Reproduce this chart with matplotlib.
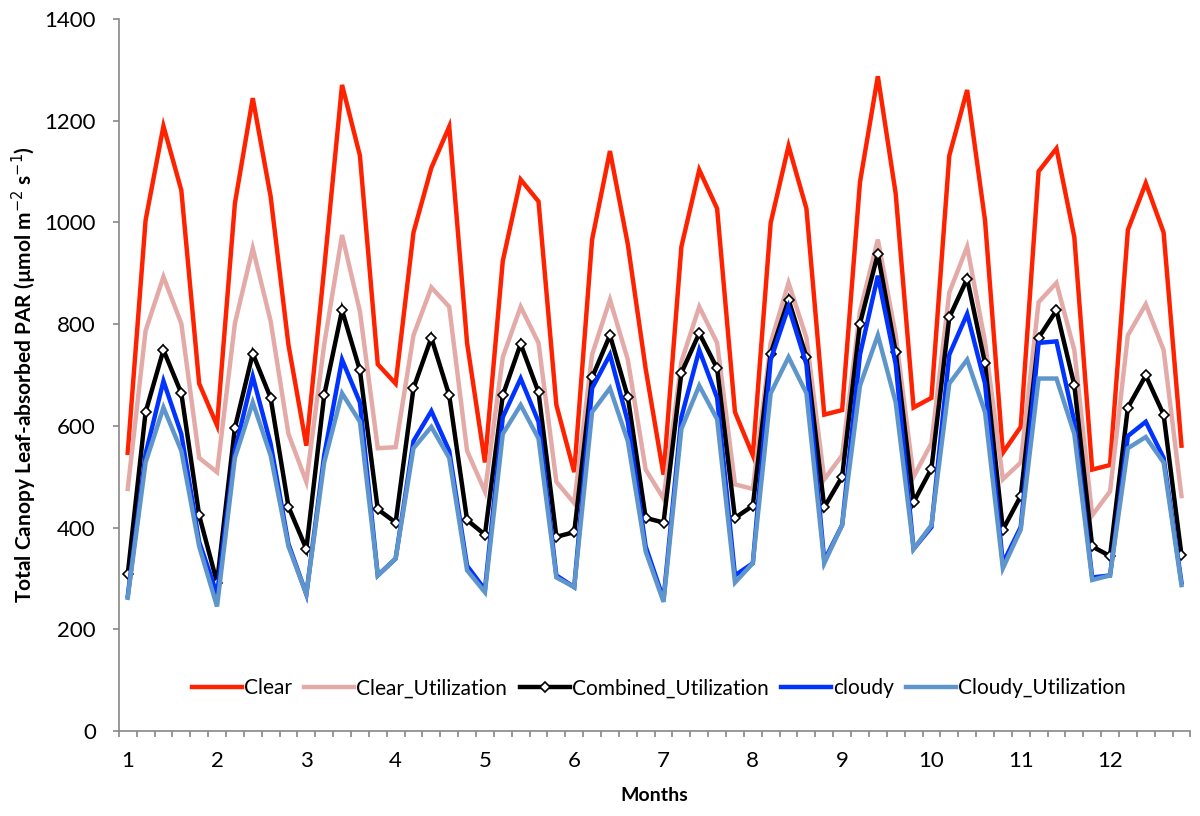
"""Canopy leaf-absorbed PAR by month: clear, cloudy and utilization series"""

import matplotlib
matplotlib.use('Agg')
import matplotlib.pyplot as plt
from matplotlib.ticker import FixedLocator, NullFormatter

plt.rcParams['font.family'] = ['Lato', 'DejaVu Sans']

# Five samples per month, 12 months
months = [str(m) for m in range(1, 13)]
samples_per_month = 5

clear = [547, 1004, 1189, 1063, 683, 601, 1037, 1244, 1051, 759,
         561, 909, 1270, 1131, 721, 683, 980, 1107, 1188, 763,
         528, 924, 1084, 1041, 641, 509, 966, 1140, 957, 712,
         504, 952, 1103, 1027, 627, 542, 999, 1150, 1027, 622,
         631, 1079, 1287, 1056, 636, 655, 1131, 1260, 1004, 547,
         598, 1100, 1145, 971, 514, 523, 985, 1077, 980, 561]
clear_util = [476, 787, 893, 801, 537, 509, 801, 949, 806, 584,
              490, 760, 975, 825, 556, 558, 778, 872, 834, 551,
              471, 735, 834, 763, 490, 448, 740, 848, 730, 514,
              457, 726, 834, 763, 485, 476, 763, 881, 773, 495,
              542, 825, 966, 778, 500, 566, 862, 952, 765, 495,
              528, 843, 881, 749, 424, 471, 778, 839, 749, 462]
combined_util = [308, 627, 749, 664, 424, 292, 596, 742, 655, 441,
                 358, 660, 827, 709, 436, 410, 674, 773, 660, 415,
                 386, 660, 761, 666, 382, 391, 695, 778, 657, 419,
                 410, 704, 782, 713, 419, 443, 742, 848, 735, 440,
                 500, 801, 938, 745, 450, 516, 813, 889, 723, 396,
                 462, 773, 827, 680, 363, 344, 636, 699, 622, 346]
cloudy = [265, 545, 688, 584, 372, 269, 551, 697, 565, 368,
          269, 542, 730, 646, 306, 339, 570, 629, 551, 325,
          278, 617, 693, 608, 306, 283, 674, 740, 608, 363,
          259, 617, 749, 655, 306, 330, 730, 834, 721, 335,
          405, 740, 895, 721, 358, 401, 740, 820, 683, 330,
          401, 763, 766, 608, 302, 306, 580, 608, 537, 292]
cloudy_util = [262, 528, 636, 551, 363, 245, 537, 646, 542, 363,
               269, 528, 664, 608, 306, 339, 556, 598, 537, 316,
               273, 584, 641, 575, 302, 283, 627, 674, 570, 353,
               254, 594, 679, 613, 292, 330, 664, 735, 664, 330,
               405, 679, 778, 646, 358, 405, 683, 730, 627, 320,
               396, 693, 693, 584, 297, 306, 556, 578, 528, 287]

series = [
    ('Clear', clear, dict(color='#ff2200')),
    ('Clear_Utilization', clear_util, dict(color='#e3aaa8')),
    ('Combined_Utilization', combined_util,
     dict(color='black', marker='D', markersize=5, markerfacecolor='white',
          markeredgecolor='black', markeredgewidth=1.2)),
    ('cloudy', cloudy, dict(color='#0033ff')),
    ('Cloudy_Utilization', cloudy_util, dict(color='#5e96cc')),
]

fig = plt.figure(figsize=(12, 8.16), dpi=100)
ax = fig.add_axes([0.099, 0.104, 0.893, 0.873])

x = list(range(len(clear)))
for name, values, style in series:
    ax.plot(x, values, linewidth=3.2, label=name, solid_joinstyle='miter', **style)

ax.set_xlim(-0.5, len(clear) - 0.5)
ax.set_ylim(0, 1400)
ax.set_yticks(range(0, 1401, 200))

# month labels under the first sample of each month, ticks between samples
ax.set_xticks([i * samples_per_month for i in range(len(months))])
ax.set_xticklabels(months)
ax.xaxis.set_minor_locator(FixedLocator([i - 0.5 for i in range(len(clear) + 1)]))
ax.xaxis.set_minor_formatter(NullFormatter())
ax.tick_params(axis='x', which='major', length=0, pad=14, labelsize=16)
ax.tick_params(axis='x', which='minor', length=4.5, color='#888888', width=1.2)
ax.tick_params(axis='y', length=4.5, color='#888888', width=1.2, labelsize=16, pad=12)

for side in ['top', 'right']:
    ax.spines[side].set_visible(False)
for side in ['left', 'bottom']:
    ax.spines[side].set_color('#888888')
    ax.spines[side].set_linewidth(1.2)

ax.set_xlabel('Months', fontsize=14, fontweight='bold', labelpad=12)
ax.set_ylabel('Total Canopy Leaf-absorbed PAR (µmol m$^{-2}$ s$^{-1}$)',
              fontsize=15, fontweight='bold', labelpad=4)

ax.legend(loc='center', bbox_to_anchor=(0.504, 0.06), ncol=5, frameon=False,
          fontsize=15, handlelength=2.4, handletextpad=0.1, columnspacing=0.6)

fig.savefig('out.png', dpi=100)
